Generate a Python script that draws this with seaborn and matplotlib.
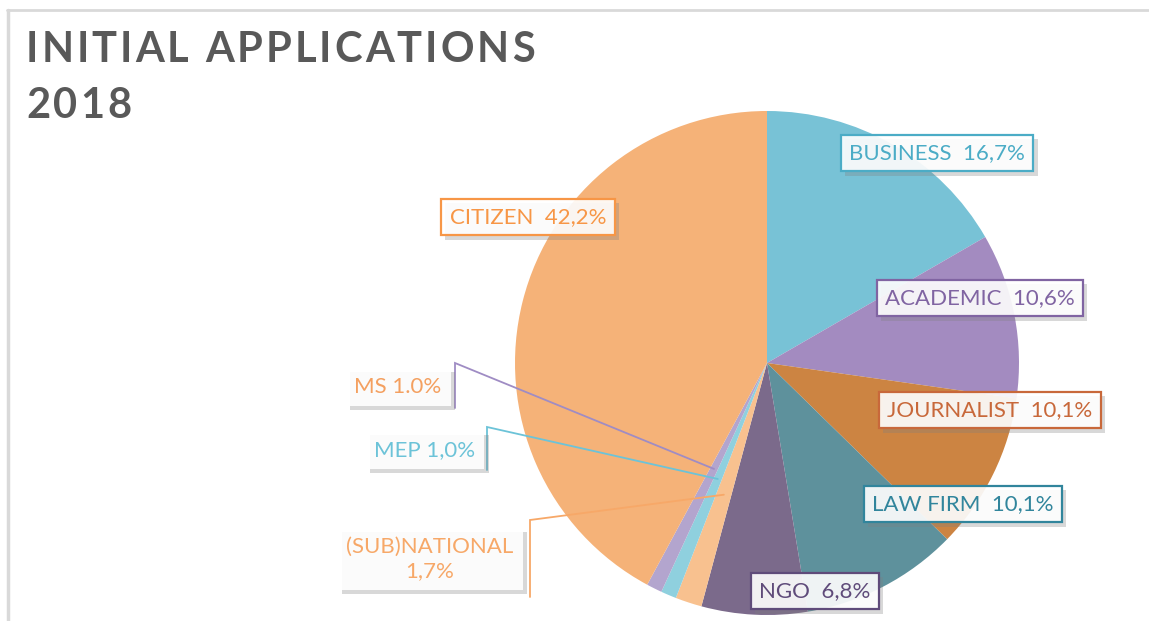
import numpy as np
import matplotlib
matplotlib.use("Agg")
import matplotlib.pyplot as plt
import matplotlib.patheffects as pe
from matplotlib.lines import Line2D
import seaborn as sns

# ----------- Data -----------
categories = ["BUSINESS", "ACADEMIC", "JOURNALIST", "LAW FIRM", "NGO",
              "(SUB)NATIONAL", "MEP", "MS", "CITIZEN"]
shares = [16.7, 10.6, 10.1, 10.1, 6.8, 1.7, 1.0, 1.0, 42.2]
share_text = ["16,7%", "10,6%", "10,1%", "10,1%", "6,8%", "1,7%", "1,0%", "1.0%", "42,2%"]

slice_colors = ["#78C2D6", "#A38BC0", "#CC8442", "#5E919C", "#7B6A8B",
                "#F8C18F", "#8FD0DE", "#B3A5CE", "#F5B278"]
label_colors = ["#4BACC6", "#8064A2", "#C8683A", "#31859C", "#5F4B7A",
                "#F7A868", "#6CC3D8", "#9F8CC4", "#F79646"]
text_colors = ["#4BACC6", "#8064A2", "#C8683A", "#31859C", "#5F4B7A",
               "#F7A868", "#6CC3D8", "#F4A060", "#F79646"]

title_lines = ["INITIAL APPLICATIONS", "2018"]

# ----------- Figure setup -----------
sns.set_theme(style="white")
plt.rcParams["font.family"] = ["Lato", "DejaVu Sans"]

W, H = 1149, 621
fig = plt.figure(figsize=(W / 100, H / 100), dpi=100)
ax = fig.add_axes([0, 0, 1, 1])


def P(x, y):
    # pixel position (from top-left) -> axes data coords
    return x, H - y


cx, cy = P(767, 363)
R = 252

wedges, _ = ax.pie(shares, colors=slice_colors, startangle=90, counterclock=False,
                   center=(cx, cy), radius=R, wedgeprops=dict(linewidth=0))
ax.set_xlim(0, W)
ax.set_ylim(0, H)
ax.set_aspect("equal")
ax.axis("off")

# ----------- Frame -----------
ax.add_line(Line2D([7, W], [H - 10, H - 10], color="#D9D9D9", lw=2))
ax.add_line(Line2D([8, 8], [0, H - 10], color="#D9D9D9", lw=2.5))

# ----------- Title (letter spaced) -----------
renderer = fig.canvas.get_renderer()
title_font = dict(fontsize=30, fontweight="bold", color="#595959",
                  ha="left", va="baseline")
tracking = 3.0
for line, base in zip(title_lines, [62, 118]):
    x0 = 26
    for k, ch in enumerate(line):
        if k > 0:
            probe = ax.text(0, 0, line[:k], **title_font)
            w_prefix = probe.get_window_extent(renderer).width
            probe.remove()
        else:
            w_prefix = 0
        ax.text(*P(x0 + w_prefix + k * tracking, base), ch, **title_font)

shadow = [pe.SimplePatchShadow(offset=(3, -3), shadow_rgbFace="#7F7F7F", alpha=0.3),
          pe.Normal()]

# ----------- Boxed labels for the big slices -----------
box_pos = {"BUSINESS": (937, 153), "ACADEMIC": (980, 298), "JOURNALIST": (990, 410),
           "LAW FIRM": (963, 504), "NGO": (815, 591), "CITIZEN": (528, 217)}

for i, cat in enumerate(categories):
    if cat not in box_pos:
        continue
    t = ax.text(*P(*box_pos[cat]), f"{cat}  {share_text[i]}", fontsize=16,
                color=text_colors[i], ha="center", va="center",
                bbox=dict(boxstyle="square,pad=0.38", fc=(1, 1, 1, 0.9),
                          ec=label_colors[i], lw=1.6))
    t.get_bbox_patch().set_path_effects(shadow)

# ----------- Leader labels for the small slices -----------
# text centre, corner x, corner bottom y, corner top y, radius fraction of the end
leader = {"MS": ((398, 387), 455, 408, 363, 0.47),
          "MEP": ((425, 450), 487, 470, 427, 0.5),
          "(SUB)NATIONAL": ((430, 559), 530, 597, 520, 0.55)}

for i, cat in enumerate(categories):
    if cat not in leader:
        continue
    (tx, ty), lx, yb, yt, frac = leader[cat]
    w = wedges[i]
    mid = np.deg2rad((w.theta1 + w.theta2) / 2)
    ex = cx + frac * R * np.cos(mid)
    ey = cy + frac * R * np.sin(mid)
    txt = f"{cat}\n{share_text[i]}" if cat == "(SUB)NATIONAL" else f"{cat} {share_text[i]}"
    t = ax.text(*P(tx, ty), txt, fontsize=16, color=text_colors[i],
                ha="center", va="center", linespacing=1.3,
                bbox=dict(boxstyle="square,pad=0.4", fc=(1, 1, 1, 0.9), ec="none"))
    t.get_bbox_patch().set_path_effects(shadow)
    ax.plot([lx, lx, ex], [H - yb, H - yt, ey], color=label_colors[i], lw=1.3,
            solid_joinstyle="miter")

fig.savefig("out.png", dpi=100)
